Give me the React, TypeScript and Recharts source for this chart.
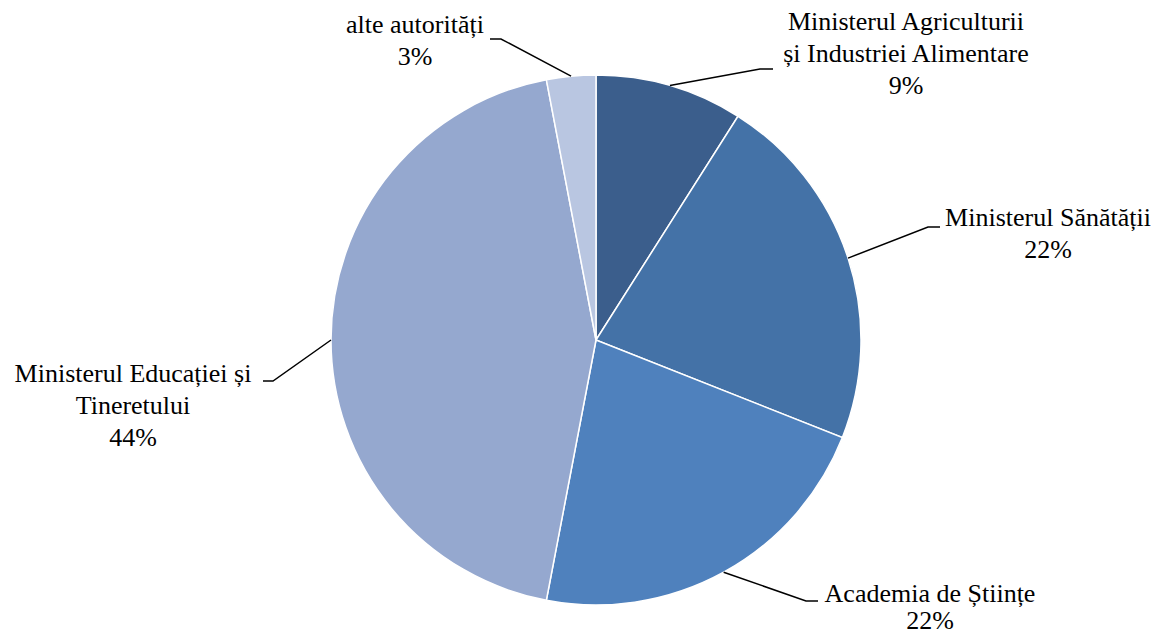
import { PieChart, Pie, Cell } from 'recharts'

const categories = [
    ['Ministerul Agriculturii', 'și Industriei Alimentare'],
    ['Ministerul Sănătății'],
    ['Academia de Științe'],
    ['Ministerul Educației și', 'Tineretului'],
    ['alte autorități'],
]
const shares = [9, 22, 22, 44, 3]
const colors = ['#3B5E8C', '#4472A7', '#4F81BD', '#95A8CF', '#B9C6E1']

// label placement relative to pie center: elbow of leader, end of short horizontal, text center x, first line y, line gap
const labelLayout = [
    { ex: 164, ey: -271, hx: 177, tx: 310, ty: -319, lh: 32 },
    { ex: 332, ey: -113, hx: 344, tx: 452, ty: -123, lh: 32 },
    { ex: 210, ey: 261, hx: 222, tx: 334, ty: 253, lh: 27 },
    { ex: -323, ey: 41, hx: -333, tx: -463, ty: 33, lh: 32 },
    { ex: -95, ey: -301, hx: -106, tx: -181, ty: -316, lh: 32 },
]

const data = categories.map((c, i) => ({ name: c.join(' '), lines: c, value: shares[i] }))

const RADIAN = Math.PI / 180

// eslint-disable-next-line @typescript-eslint/no-explicit-any
const renderLabel = (props: any) => {
    const { cx, cy, midAngle, outerRadius, index } = props
    const l = labelLayout[index]
    const sx = cx + outerRadius * Math.cos(-midAngle * RADIAN)
    const sy = cy + outerRadius * Math.sin(-midAngle * RADIAN)
    const lines = [...data[index].lines, `${data[index].value}%`]
    return (
        <g key={`lbl-${index}`}>
            <polyline
                points={`${sx},${sy} ${cx + l.ex},${cy + l.ey} ${cx + l.hx},${cy + l.ey}`}
                fill="none"
                stroke="#000"
                strokeWidth={1.5}
            />
            {lines.map((t, j) => (
                <text
                    key={j}
                    x={cx + l.tx}
                    y={cy + l.ty + j * l.lh}
                    textAnchor="middle"
                    dominantBaseline="central"
                    fill="#000"
                    style={{ fontFamily: '"Liberation Serif", serif', fontSize: 26 }}
                >
                    {t}
                </text>
            ))}
        </g>
    )
}

export default function App() {
    return (
        <div style={{ position: 'absolute', left: 0, top: 0, width: 1156, height: 635, background: '#fff' }}>
            <PieChart width={1156} height={635} margin={{ top: 0, right: 0, bottom: 0, left: 0 }}>
                <Pie
                    data={data}
                    dataKey="value"
                    nameKey="name"
                    cx={596}
                    cy={340}
                    outerRadius={265}
                    startAngle={90}
                    endAngle={-270}
                    stroke="#fff"
                    strokeWidth={1.5}
                    label={renderLabel}
                    labelLine={false}
                    isAnimationActive={false}
                >
                    {data.map((d, i) => (
                        <Cell key={d.name} fill={colors[i]} />
                    ))}
                </Pie>
            </PieChart>
        </div>
    )
}
